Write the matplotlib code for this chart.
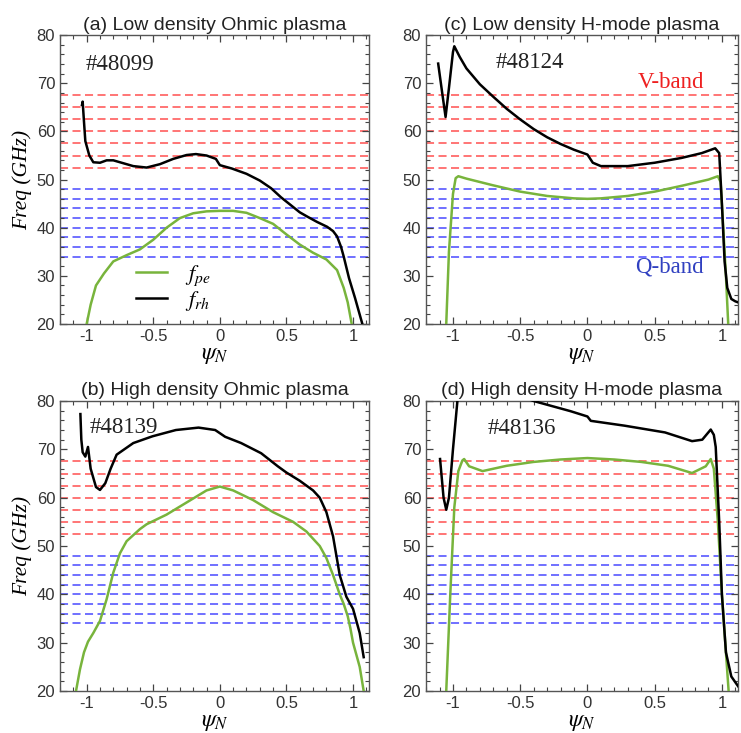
import numpy as np
import matplotlib
matplotlib.use("Agg")
import matplotlib.pyplot as plt
from matplotlib.ticker import MultipleLocator

plt.rcParams['axes.unicode_minus'] = False
plt.rcParams['mathtext.fontset'] = 'stix'
plt.rcParams['font.family'] = 'Liberation Sans'
plt.rcParams['lines.scale_dashes'] = False

# reflectometer channel frequencies (GHz)
v_band = [67.5, 65.0, 62.5, 60.0, 57.5, 55.0, 52.5]
q_band = [48, 46, 44, 42, 40, 38, 36, 34]

# (a) shot 48099
a_pe_x = [-1.0, -0.97, -0.93, -0.87, -0.8, -0.7, -0.6, -0.5, -0.4, -0.3, -0.2, -0.1, 0.0, 0.1,
          0.2, 0.3, 0.4, 0.5, 0.6, 0.7, 0.8, 0.88, 0.93, 0.96, 0.99]
a_pe_y = [20, 24, 28, 30.5, 33, 34.3, 35.5, 37.5, 40, 42, 43, 43.4, 43.5, 43.5,
          43.1, 42, 40.8, 38.6, 36.5, 34.8, 33.4, 31.2, 27.5, 24.5, 20]
a_rh_x = [-1.035, -1.03, -1.02, -1.01, -0.98, -0.95, -0.9, -0.85, -0.8, -0.75, -0.65, -0.55,
          -0.45, -0.35, -0.25, -0.18, -0.1, -0.03, 0.0, 0.09, 0.2, 0.3, 0.385, 0.46, 0.546,
          0.6, 0.657, 0.73, 0.805, 0.85, 0.88, 0.91, 0.93, 0.97, 1.015, 1.07]
a_rh_y = [65.5, 66.2, 62, 58, 55, 53.6, 53.5, 54.0, 54.0, 53.6, 52.8, 52.5,
          53.2, 54.3, 55.1, 55.3, 55.0, 54.3, 53.0, 52.3, 51.2, 49.8, 48.2, 46.3, 44.4,
          43.2, 42.3, 41.2, 40.2, 39.3, 38.2, 36, 34, 29.5, 25.4, 20]

# (b) shot 48139
b_pe_x = [-1.08, -1.05, -1.02, -0.99, -0.95, -0.9, -0.85, -0.8, -0.75, -0.7, -0.6, -0.55, -0.4,
          -0.25, -0.1, 0.0, 0.1, 0.25, 0.4, 0.55, 0.65, 0.75, 0.8, 0.85, 0.9, 0.93, 0.96,
          0.98, 1.0, 1.05, 1.08]
b_pe_y = [20, 24.5, 28, 30.2, 32, 34.5, 39, 44.5, 48.5, 51, 53.5, 54.5, 56.5,
          59, 61.5, 62.3, 61.5, 59.5, 57, 55, 53, 50, 47.5, 44, 40, 38, 35.5,
          33, 30, 25, 20]
b_rh_x = [-1.047, -1.04, -1.03, -1.01, -0.99, -0.97, -0.93, -0.9, -0.86, -0.82, -0.775, -0.65,
          -0.506, -0.33, -0.16, -0.035, 0.04, 0.16, 0.31, 0.435, 0.5, 0.6, 0.7, 0.75, 0.8,
          0.85, 0.9, 0.95, 1.0, 1.05, 1.08]
b_rh_y = [77.3, 72, 69.4, 68.5, 70.5, 66, 62.2, 61.6, 63, 66, 68.9, 71.3,
          72.7, 74.0, 74.5, 74.0, 72.6, 71.3, 69.2, 66.5, 65.2, 63.5, 61.5, 60, 57,
          52, 44, 39.5, 37, 32, 27]

# (c) shot 48124
c_pe_x = [-1.05, -1.03, -1.0, -0.98, -0.96, -0.9, -0.7, -0.5, -0.3, -0.1, 0.0, 0.1, 0.3,
          0.5, 0.7, 0.9, 0.97, 0.99, 1.01, 1.03, 1.047]
c_pe_y = [20, 35, 47, 50.3, 50.7, 50.2, 48.8, 47.5, 46.6, 46.1, 46.0, 46.1, 46.6,
          47.5, 48.7, 50.0, 50.7, 49.5, 40, 30, 20]
c_rh_x = [-1.11, -1.08, -1.055, -1.03, -1.0, -0.99, -0.97, -0.95, -0.9, -0.8, -0.7, -0.6,
          -0.5, -0.4, -0.3, -0.2, -0.1, 0.0, 0.04, 0.1, 0.3, 0.5, 0.7, 0.85, 0.95, 0.98,
          1.0, 1.02, 1.04, 1.07, 1.1, 1.12]
c_rh_y = [74.1, 68, 63.0, 69, 76.5, 77.7, 76.6, 75.5, 73.1, 69.8, 67.2, 64.7,
          62.5, 60.5, 58.8, 57.4, 56.2, 55.2, 53.5, 52.8, 52.8, 53.5, 54.5, 55.5, 56.5, 55.5,
          45, 33, 27.5, 25.2, 24.7, 24.5]

# (d) shot 48136
d_pe_x = [-1.05, -1.02, -0.99, -0.96, -0.93, -0.917, -0.88, -0.78, -0.6, -0.4, -0.2, 0.0,
          0.2, 0.4, 0.6, 0.778, 0.88, 0.917, 0.94, 0.97, 1.0, 1.03, 1.05]
d_pe_y = [20, 40, 58, 65.5, 67.7, 68.0, 66.5, 65.5, 66.6, 67.4, 67.9, 68.2,
          67.9, 67.4, 66.6, 65.1, 66.5, 68.0, 66, 55, 40, 28, 20]
d_rh_x = [-1.096, -1.07, -1.05, -1.03, -1.0, -0.967, -0.94, -0.9, -0.7, -0.4, -0.126, 0.0,
          0.025, 0.276, 0.577, 0.778, 0.854, 0.917, 0.94, 0.954, 0.98, 1.0, 1.03, 1.07, 1.12]
d_rh_y = [68.0, 60, 57.5, 60, 70, 80, 88, 86, 83, 80, 77.9, 76.8,
          75.9, 74.9, 73.5, 71.7, 72.0, 74.1, 73, 70.5, 55, 40, 28, 23, 21]

panels = [
    ("(a) Low density Ohmic plasma", "#48099", (-1.01, 74.0), a_pe_x, a_pe_y, a_rh_x, a_rh_y),
    ("(c) Low density H-mode plasma", "#48124", (-0.68, 74.3), c_pe_x, c_pe_y, c_rh_x, c_rh_y),
    ("(b) High density Ohmic plasma", "#48139", (-0.98, 74.5), b_pe_x, b_pe_y, b_rh_x, b_rh_y),
    ("(d) High density H-mode plasma", "#48136", (-0.74, 74.3), d_pe_x, d_pe_y, d_rh_x, d_rh_y),
]
positions = [
    [0.081, 0.558, 0.417, 0.394],
    [0.575, 0.558, 0.421, 0.394],
    [0.081, 0.0573, 0.417, 0.3956],
    [0.575, 0.0573, 0.421, 0.3956],
]

GREEN = '#78b43c'
fig = plt.figure(figsize=(7.41, 7.33), dpi=100)

for i, (title, shot, shot_xy, pe_x, pe_y, rh_x, rh_y) in enumerate(panels):
    ax = fig.add_axes(positions[i])
    for f in v_band:
        ax.axhline(f, color='#ff5050', alpha=0.85, lw=1.3, dashes=(5.8, 3.2), zorder=1)
    for f in q_band:
        ax.axhline(f, color='#4a4aff', alpha=0.85, lw=1.3, dashes=(5.8, 3.2), zorder=1)
    ax.plot(pe_x, pe_y, color=GREEN, lw=1.8, label='$f_{pe}$', zorder=3)
    ax.plot(rh_x, rh_y, color='black', lw=1.8, label='$f_{rh}$', zorder=3)

    ax.set_xlim(-1.2, 1.12)
    ax.set_ylim(20, 80)
    ax.xaxis.set_major_locator(MultipleLocator(0.5))
    ax.xaxis.set_minor_locator(MultipleLocator(0.1))
    ax.yaxis.set_major_locator(MultipleLocator(10))
    ax.yaxis.set_minor_locator(MultipleLocator(2))
    ax.tick_params(which='both', direction='in', top=True, right=True,
                   colors='#444444', labelcolor='#333333', labelsize=12)
    ax.tick_params(which='major', length=5, width=0.9)
    ax.tick_params(which='minor', length=3, width=0.8)
    ax.set_xticks([-1, -0.5, 0, 0.5, 1])
    ax.set_xticklabels(['-1', '-0.5', '0', '0.5', '1'])
    for s in ax.spines.values():
        s.set_color('#555555')
        s.set_linewidth(1.0)

    ax.set_title(title, fontsize=14, color='#222222', pad=4)
    ax.set_xlabel(r'$\psi_N$', fontsize=17, labelpad=0)
    if i % 2 == 0:
        ax.set_ylabel('Freq (GHz)', fontsize=15.5, family='Liberation Serif',
                      style='italic', labelpad=3)
    ax.text(shot_xy[0], shot_xy[1], shot, fontsize=16.5, family='Liberation Serif',
            color='#222222', ha='left', va='center')

    if i == 0:
        ax.legend(loc='upper left', bbox_to_anchor=(0.18, 0.28), frameon=False,
                  fontsize=16, handlelength=1.4, handletextpad=0.8, labelspacing=0.05)
    if i == 1:
        ax.text(0.377, 70.1, 'V-band', fontsize=16.5, family='Liberation Serif',
                color='#ee2020', ha='left', va='center')
        ax.text(0.351, 31.8, 'Q-band', fontsize=16.5, family='Liberation Serif',
                color='#3040c0', ha='left', va='center')

fig.savefig('out.png', dpi=100)
